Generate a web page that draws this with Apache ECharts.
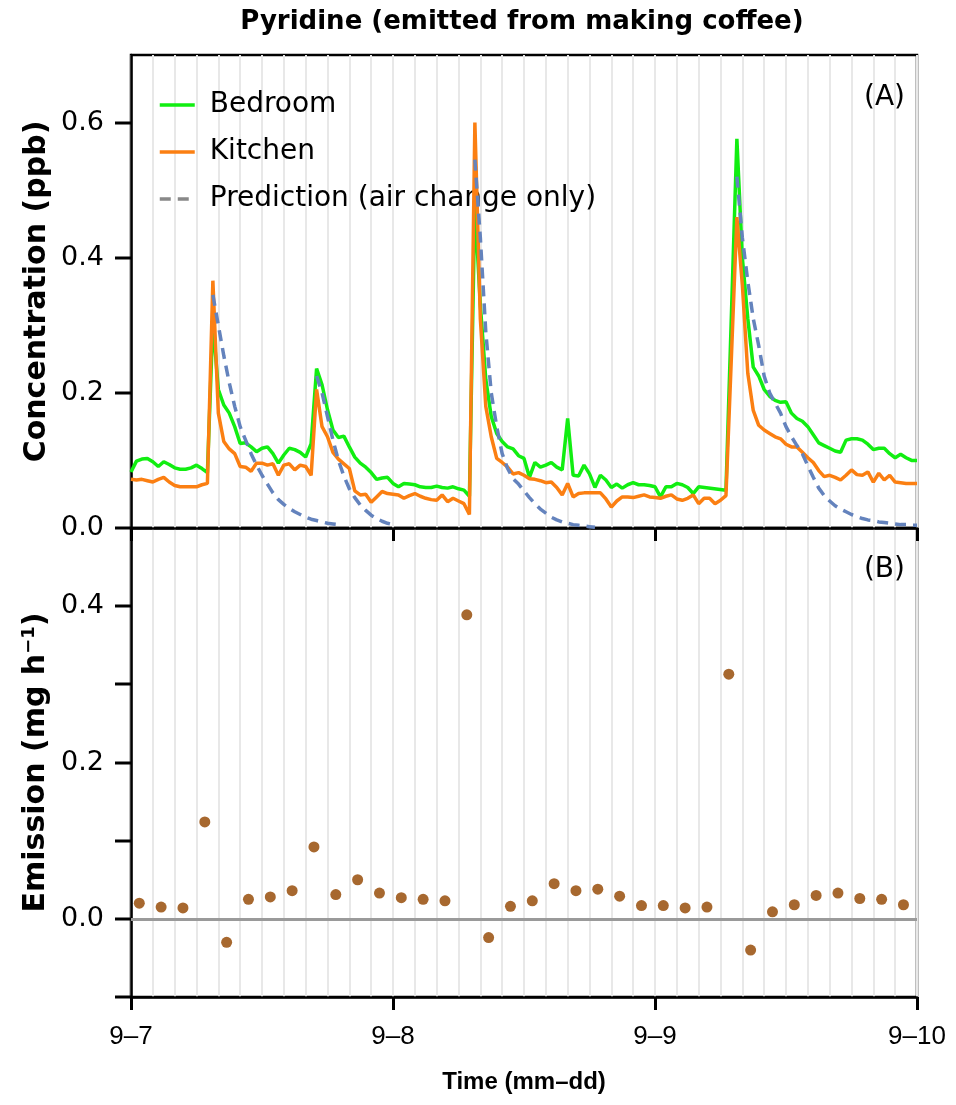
<!DOCTYPE html>
<html><head><meta charset="utf-8">
<script src="https://cdn.jsdelivr.net/npm/echarts@6/dist/echarts.min.js"></script>
<style>html,body{margin:0;padding:0;background:#fff}#c{width:956px;height:1105px}</style>
</head><body><div id="c"></div>
<script>
// ---------- data ----------
const dayLabels = ['9–7', '9–8', '9–9', '9–10'];
const stepHours = 0.5;               // sampling step of the concentration series (hours from 9-7 00:00)
const bedroom = [
  0.083,0.099,0.102,0.103,0.098,0.091,0.098,0.094,0.089,0.087,
  0.087,0.089,0.093,0.088,0.082,0.305,0.205,0.182,0.170,0.150,
  0.125,0.126,0.120,0.113,0.118,0.120,0.110,0.096,0.108,0.118,
  0.116,0.112,0.105,0.125,0.236,0.212,0.175,0.145,0.134,0.136,
  0.120,0.105,0.096,0.090,0.082,0.072,0.074,0.075,0.066,0.061,
  0.066,0.065,0.064,0.061,0.060,0.060,0.062,0.060,0.059,0.061,
  0.058,0.056,0.047,0.480,0.330,0.220,0.165,0.140,0.128,0.120,
  0.117,0.107,0.103,0.075,0.097,0.090,0.093,0.097,0.090,0.086,
  0.162,0.078,0.077,0.093,0.080,0.060,0.078,0.071,0.060,0.065,
  0.059,0.064,0.067,0.064,0.064,0.063,0.061,0.046,0.061,0.061,
  0.066,0.064,0.060,0.051,0.061,null,null,null,null,0.056,
  null,0.576,0.400,0.310,0.238,0.225,0.205,0.195,0.189,0.186,
  0.187,0.170,0.162,0.158,0.150,0.138,0.126,0.122,0.118,0.114,
  0.112,0.130,0.132,0.132,0.130,0.124,0.116,0.118,0.118,0.110,
  0.104,0.109,0.104,0.100,0.100
];
const kitchen = [
  0.072,0.071,0.072,0.070,0.068,0.072,0.075,0.068,0.063,0.061,
  0.061,0.061,0.061,0.064,0.066,0.366,0.170,0.128,0.117,0.110,
  0.091,0.090,0.084,0.096,0.096,0.093,0.095,0.078,0.093,0.095,
  0.086,0.093,0.091,0.078,0.205,0.150,0.135,0.112,0.102,0.095,
  0.088,0.055,0.049,0.050,0.038,0.046,0.054,0.051,0.050,0.049,
  0.044,0.048,0.051,0.047,0.044,0.042,0.041,0.049,0.039,0.044,
  0.040,0.036,0.020,0.600,0.310,0.180,0.135,0.103,0.097,0.090,
  0.080,0.082,0.078,0.073,0.072,0.070,0.067,0.068,0.060,0.049,
  0.066,0.046,0.051,0.052,0.052,0.052,0.052,0.043,0.031,0.040,
  0.046,0.046,0.045,0.047,0.049,0.046,0.045,0.044,0.047,0.049,
  0.043,0.041,0.044,0.049,0.036,0.044,0.044,0.036,0.041,0.048,
  null,0.460,0.360,0.229,0.174,0.152,0.145,0.140,0.135,0.132,
  0.124,0.120,0.120,0.112,0.104,0.097,0.085,0.076,0.078,0.075,
  0.071,0.078,0.086,0.079,0.078,0.083,0.068,0.081,0.071,0.078,
  0.068,0.067,0.066,0.066,0.066
];
// prediction (air change only): one decay curve after each coffee event
const predStarts = [7.5, 17, 31.5, 55.5];
const pred1 = [0.345,0.300,0.255,0.215,0.180,0.150,0.130,0.110,0.093,0.078,0.065,0.052,0.042,0.035,0.029,0.024,0.020,0.016,0.013,0.011,0.009,0.007,0.006,0.005];
const pred2 = [0.225,0.200,0.165,0.130,0.100,0.077,0.058,0.045,0.034,0.026,0.019,0.014,0.010,0.007,0.005];
const pred3 = [0.545,0.430,0.290,0.200,0.150,0.110,0.088,0.073,0.065,0.055,0.045,0.036,0.028,0.022,0.016,0.012,0.009,0.007,0.005,0.004,0.003,0.002,0.001];
const pred4 = [0.520,0.430,0.365,0.310,0.270,0.225,0.200,0.185,0.170,0.150,0.135,0.122,0.110,0.092,0.075,0.059,0.048,0.040,0.033,0.028,0.024,0.020,0.017,0.014,0.012,0.011,0.009,0.008,0.007,0.006,0.005,0.005,0.004,0.004];
// emission estimates, one per 2-hour window
const emissionFirstHour = 0.76;
const emissionStepHours = 2;
const emission = [0.020,0.015,0.014,0.124,-0.030,0.025,0.028,0.036,0.092,0.031,0.050,0.033,0.027,0.025,0.023,0.389,-0.024,0.016,
                  0.023,0.045,0.036,0.038,0.029,0.017,0.017,0.014,0.015,0.313,-0.040,0.009,0.018,0.030,0.033,0.026,0.025,0.018];
const concTicks = [0, 0.2, 0.4, 0.6];
const concLabels = [0, 0.2, 0.4, 0.6];
const emisTicks = [-0.1, 0, 0.1, 0.2, 0.3, 0.4];
const emisLabels = [0, 0.2, 0.4];

// ---------- chart ----------
const WIDE = 'DejaVu Sans, Verdana, sans-serif';
const ARIAL = '"Liberation Sans", Arial, sans-serif';
const toPairs = (arr, start) => arr.map((v, i) => [start + i * stepHours, v]);
const predName = 'Prediction (air change only)';
const chart = echarts.init(document.getElementById('c'), null, {renderer: 'canvas'});

const gridLine = {show: true, lineStyle: {color: '#e8e8e8', width: 2}};
function xAxis(idx, withLabels) {
  return {
    type: 'value', gridIndex: idx, min: 0, max: 72, interval: 24,
    axisLine: {show: true, onZero: false, lineStyle: {color: '#000', width: 2.5}},
    axisTick: {show: true, length: 13, lineStyle: {color: '#000', width: 3}},
    axisLabel: withLabels ? {show: true, fontSize: 26, color: '#000', fontFamily: ARIAL, margin: 27,
      formatter: v => dayLabels[Math.round(v / 24)]} : {show: false},
    splitLine: gridLine,
    minorTick: {show: false, splitNumber: 12},
    minorSplitLine: gridLine,
    name: withLabels ? 'Time (mm–dd)' : '',
    nameLocation: 'middle', nameGap: 73,
    nameTextStyle: {fontSize: 24, fontWeight: 'bold', color: '#000', fontFamily: ARIAL}
  };
}

const predSeries = [pred1, pred2, pred3, pred4].map((p, k) => ({
  name: predName, type: 'line', xAxisIndex: 0, yAxisIndex: 0,
  data: toPairs(p, predStarts[k]), symbol: 'none', z: 5,
  lineStyle: {color: '#6483bd', width: 3.5, type: [11, 7]},
  itemStyle: {color: '#6483bd'}
}));

const yName = {fontSize: 30, fontWeight: 'bold', color: '#000', fontFamily: WIDE};

chart.setOption({
  animation: false,
  backgroundColor: '#fff',
  textStyle: {fontFamily: WIDE},
  grid: [
    {left: 131, right: 39, top: 55, height: 473, show: true, borderColor: '#000', borderWidth: 2.5, backgroundColor: 'transparent'},
    {left: 131, right: 39, top: 528, height: 469, show: true, borderColor: '#000', borderWidth: 2.5, backgroundColor: 'transparent'}
  ],
  xAxis: [xAxis(0, false), xAxis(1, true)],
  yAxis: [
    {type: 'value', gridIndex: 0, position: 'left', min: 0, max: 0.7, interval: 0.2,
     axisLine: {show: true, lineStyle: {color: '#000', width: 2.5}},
     axisTick: {show: false}, axisLabel: {show: false}, splitLine: {show: false},
     name: 'Concentration (ppb)', nameLocation: 'middle', nameRotate: 90, nameGap: 79,
     nameTextStyle: yName},
    {type: 'value', gridIndex: 1, position: 'left', min: -0.1, max: 0.5, interval: 0.1,
     axisLine: {show: true, lineStyle: {color: '#000', width: 2.5}},
     axisTick: {show: false}, axisLabel: {show: false}, splitLine: {show: false},
     name: 'Emission (mg h{sup|−1})', nameLocation: 'middle', nameRotate: 90, nameGap: 79,
     nameTextStyle: Object.assign({}, yName, {
       rich: {sup: {fontSize: 18, fontWeight: 'bold', color: '#000', fontFamily: WIDE, verticalAlign: 'top', padding: [0, 0, 14, 0]}}})}
  ],
  legend: {
    orient: 'vertical', left: 153, top: 86, itemWidth: 35, itemHeight: 4, itemGap: 19,
    itemStyle: {opacity: 0},
    lineStyle: {width: 3.5},
    textStyle: {fontSize: 28, color: '#000', fontFamily: WIDE, padding: [0, 0, 0, 10]},
    data: [
      {name: 'Bedroom'},
      {name: 'Kitchen'},
      {name: predName, lineStyle: {color: '#888888', width: 3.5}}
    ]
  },
  graphic: [
    {type: 'text', id: 'title', x: 522, y: 22, style: {text: 'Pyridine (emitted from making coffee)', font: 'bold 26px DejaVu Sans', fill: '#000', align: 'center', verticalAlign: 'middle'}},
    {type: 'text', id: 'tagA', x: 905, y: 98, style: {text: '(A)', font: '28px DejaVu Sans', fill: '#000', align: 'right', verticalAlign: 'middle'}},
    {type: 'text', id: 'tagB', x: 905, y: 570, style: {text: '(B)', font: '28px DejaVu Sans', fill: '#000', align: 'right', verticalAlign: 'middle'}}
  ],
  series: [
    {name: 'Bedroom', type: 'line', xAxisIndex: 0, yAxisIndex: 0, data: toPairs(bedroom, 0),
     connectNulls: true, symbol: 'none', z: 3, lineStyle: {color: '#11ee11', width: 3.5}, itemStyle: {color: '#11ee11'}},
    {name: 'Kitchen', type: 'line', xAxisIndex: 0, yAxisIndex: 0, data: toPairs(kitchen, 0),
     connectNulls: true, symbol: 'none', z: 4, lineStyle: {color: '#fb7f12', width: 3.5}, itemStyle: {color: '#fb7f12'}},
    ...predSeries,
    {name: 'Emission', type: 'scatter', xAxisIndex: 1, yAxisIndex: 1,
     data: emission.map((v, i) => [emissionFirstHour + i * emissionStepHours, v]),
     symbolSize: 11, itemStyle: {color: '#a7682f', opacity: 1}, z: 5,
     markLine: {silent: true, symbol: 'none', label: {show: false}, z: 2,
       lineStyle: {color: '#9a9a9a', width: 3, type: 'solid'}, data: [{yAxis: 0}]}}
  ]
});

// y tick marks and tick labels, placed through the axes' own scales
const TICK_LEN = 16, LABEL_GAP = 27;
const extraEls = [];
[[0, concTicks, concLabels], [1, emisTicks, emisLabels]].forEach(([ax, ticks, labels]) => {
  const x0 = chart.convertToPixel({xAxisIndex: ax}, 0);
  ticks.forEach((v, i) => {
    const y = chart.convertToPixel({yAxisIndex: ax}, v);
    extraEls.push({type: 'rect', id: 'ytick' + ax + '_' + i, z: 100, silent: true,
      shape: {x: x0 - TICK_LEN, y: Math.round(y) - 1.5, width: TICK_LEN, height: 3},
      style: {fill: '#000', stroke: null}});
  });
  labels.forEach((v, i) => {
    const y = chart.convertToPixel({yAxisIndex: ax}, v);
    extraEls.push({type: 'text', id: 'ylab' + ax + '_' + i, z: 100, silent: true,
      x: x0 - LABEL_GAP, y: y,
      style: {text: v.toFixed(1), font: '27px DejaVu Sans', fill: '#000', align: 'right', verticalAlign: 'middle'}});
  });
});
chart.setOption({graphic: extraEls});
</script>
</body></html>
